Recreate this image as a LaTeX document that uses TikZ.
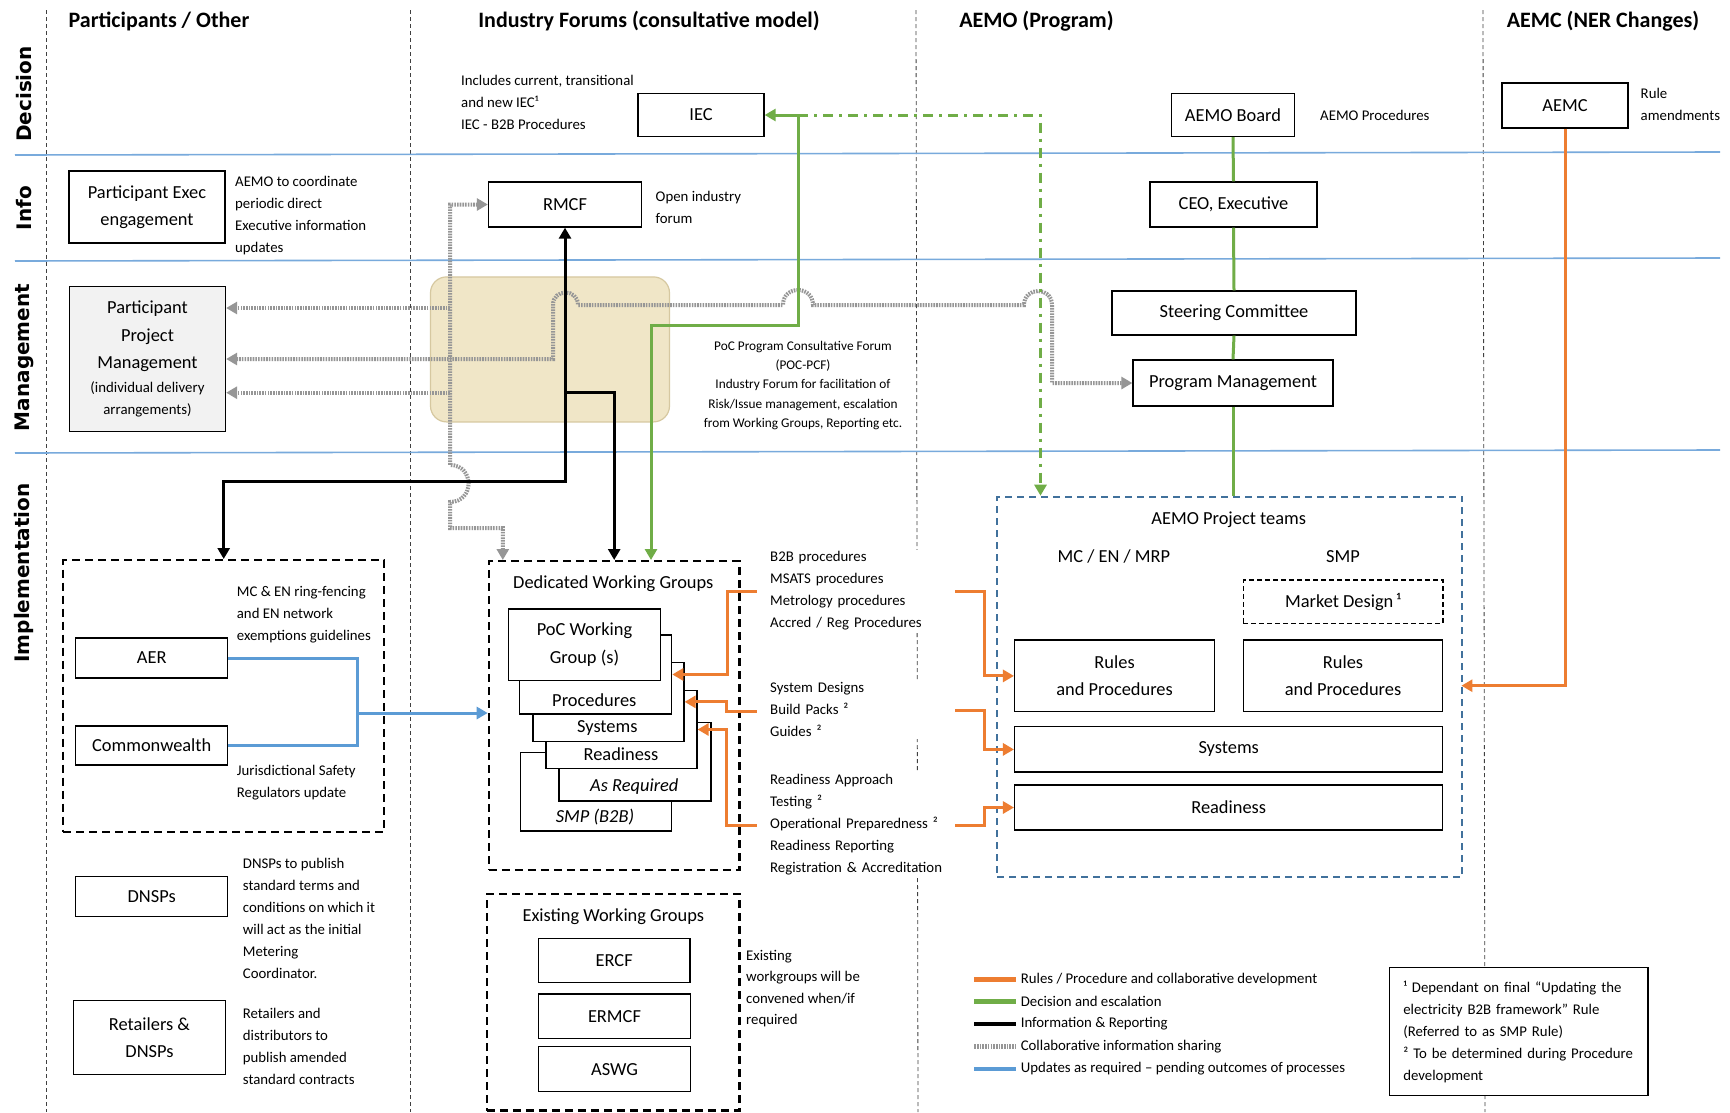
\documentclass[tikz,border=0pt]{standalone}
\usepackage{fontspec}
\setmainfont{Carlito}
\newfontfamily\rowfont{DejaVu Sans}
\usetikzlibrary{arrows.meta,calc}
\definecolor{laneblue}{RGB}{120,170,220}
\definecolor{orgc}{RGB}{237,125,49}
\definecolor{grnc}{RGB}{112,173,71}
\definecolor{bluc}{RGB}{91,155,213}
\definecolor{gryc}{RGB}{150,150,150}
\definecolor{teamc}{RGB}{65,113,156}
\definecolor{ppmfill}{RGB}{242,242,242}
\definecolor{tanfill}{RGB}{240,230,199}
\definecolor{tandraw}{RGB}{214,200,160}
\newcommand\notesize{\fontsize{14.8}{22}\selectfont}
\newcommand\boxsize{\fontsize{18.4}{27.5}\selectfont}
\begin{document}
\begin{tikzpicture}[x=1pt,y=-1pt,
  >={Triangle[length=11pt,width=12pt]},
  box/.style={draw=black, line width=1.3pt, fill=white, inner sep=0pt, align=center, font=\boxsize},
  lbl/.style={inner sep=0pt, align=center, font=\boxsize},
  note/.style={inner sep=0pt, align=left, anchor=north west, font=\notesize},
  wnote/.style={note, fill=white, inner sep=2pt, text width=172pt},
  hdr/.style={font=\fontsize{22}{26}\selectfont\bfseries},
  rowlab/.style={font=\rowfont\fontsize{20}{24}\selectfont\bfseries, rotate=90},
  lane/.style={draw=laneblue, line width=1.6pt},
  colsep/.style={draw=black!75, line width=0.8pt, dash pattern=on 4pt off 3pt},
  grpbox/.style={draw=black, line width=2.4pt, dash pattern=on 8pt off 5pt, inner sep=0pt},
  teambox/.style={draw=teamc, line width=2pt, dash pattern=on 7pt off 5pt, inner sep=0pt},
  stackbox/.style={draw=black, line width=1.3pt, fill=white, inner sep=0pt, anchor=north west},
  org/.style={draw=orgc, line width=3pt},
  grn/.style={draw=grnc, line width=3pt},
  blu/.style={draw=bluc, line width=3pt},
  blk/.style={draw=black, line width=3pt},
  gry/.style={draw=gryc, line width=4pt, dash pattern=on 1.6pt off 1.1pt},
  dashdot/.style={dash pattern=on 10pt off 6pt on 3pt off 6pt},
]
\fill[white] (0,0) rectangle (1730,1112);
\useasboundingbox (0,0) rectangle (1730,1112);

% column separators
\draw[colsep] (46,10) -- (46,1112);
\draw[colsep] (410,10) -- (410,1112);
\draw[colsep] (916,10) -- (918,1112);
\draw[colsep] (1483,10) -- (1485,1112);

% lanes
\draw[lane] (15,155) -- (1720,152);
\draw[lane] (15,261) -- (1720,258);
\draw[lane] (15,453) -- (1720,450);

% headers
\node[hdr] (h1) at (159,21) {Participants / Other};
\node[hdr] (h2) at (649,21) {Industry Forums (consultative model)};
\node[hdr] (h3) at (1036.5,21) {AEMO (Program)};
\node[hdr] (h4) at (1603,21) {AEMC (NER Changes)};

% row labels
\node[rowlab] (r1) at (24,94) {Decision};
\node[rowlab] (r2) at (24,208) {Info};
\node[rowlab] (r3) at (24,357.5) {Management};
\node[rowlab] (r4) at (24,573) {Implementation};

% Decision row
\node[box, minimum width=126pt, minimum height=43pt] (iec) at (701,115) {IEC};
\node[note] (incl) at (461,75) {Includes current, transitional\\and new IEC¹\\IEC - B2B Procedures};
\node[box, minimum width=123pt, minimum height=43pt] (board) at (1233,115) {AEMO Board};
\node[note, anchor=west] (aproc) at (1320,115) {AEMO Procedures};
\node[box, minimum width=126pt, minimum height=45pt] (aemc) at (1565,105.5) {AEMC};
\node[note] (rule) at (1640.5,88) {Rule\\amendments};

% Info row
\node[box, minimum width=156pt, minimum height=72pt] (pexec) at (147,207) {Participant Exec\\engagement};
\node[note] (coord) at (235,176) {AEMO to coordinate\\periodic direct\\Executive information\\updates};
\node[box, minimum width=153pt, minimum height=45pt] (rmcf) at (565,204.5) {RMCF};
\node[note] (open) at (655.5,191) {Open industry\\forum};
\node[box, minimum width=167pt, minimum height=45pt] (ceo) at (1233.5,204.5) {CEO, Executive};

% Management row
\node[box, fill=ppmfill, minimum width=156pt, minimum height=145pt] (ppm) at (147.5,359)
  {Participant\\Project\\Management\\[-3.5pt]\notesize (individual delivery\\[-5.5pt]\notesize arrangements)};
\node[draw=tandraw, fill=tanfill, line width=1.2pt, rounded corners=16pt, minimum width=239pt, minimum height=145pt, inner sep=0pt] (pcf) at (550,349.4) {};
\node[inner sep=0pt, align=center, font=\fontsize{13.3}{19.3}\selectfont] (pcft) at (803,385.5)
  {PoC Program Consultative Forum\\(POC-PCF)\\Industry Forum for facilitation of\\Risk/Issue management, escalation\\from Working Groups, Reporting etc.};
\node[box, minimum width=244pt, minimum height=44pt] (steer) at (1234,313) {Steering Committee};
\node[box, minimum width=200pt, minimum height=46pt] (pm) at (1233,383) {Program Management};

% Implementation - participants
\node[grpbox, minimum width=321pt, minimum height=271.7pt, anchor=north west] (lgrp) at (62,559) {};
\node[box, minimum width=152pt, minimum height=40pt] (aer) at (151.7,658) {AER};
\node[box, minimum width=152pt, minimum height=39pt] (cw) at (151.7,745.5) {Commonwealth};
\node[note] (mcen) at (236.7,585.7) {MC \& EN ring-fencing\\and EN network\\exemptions guidelines};
\node[note] (jur) at (236.7,764.7) {Jurisdictional Safety\\Regulators update};
\node[box, minimum width=152pt, minimum height=40pt] (dnsp) at (151.7,896.7) {DNSPs};
\node[note] (dnspt) at (242.7,858) {DNSPs to publish\\standard terms and\\conditions on which it\\will act as the initial\\Metering\\Coordinator.};
\node[box, minimum width=152pt, minimum height=73.6pt] (ret) at (149.5,1037.5) {Retailers \&\\DNSPs};
\node[note] (rett) at (242.7,1008) {Retailers and\\distributors to\\publish amended\\standard contracts};

% Dedicated working groups
\node[grpbox, minimum width=250.6pt, minimum height=309pt, anchor=north west] (dwg) at (487.7,560) {};
\node[lbl] (dwgt) at (613.3,583.3) {Dedicated Working Groups};
\node[stackbox, minimum width=151pt, minimum height=78.6pt] (smp) at (520,751.7) {};
\node[lbl, font=\boxsize\itshape] (smpt) at (595,816.7) {SMP (B2B)};
\node[stackbox, minimum width=152pt, minimum height=78.6pt] (asreq) at (558.3,721.7) {};
\node[lbl, font=\boxsize\itshape] (asreqt) at (634.3,786.7) {As Required};
\node[stackbox, minimum width=151pt, minimum height=77.7pt] (rdy) at (545.3,690) {};
\node[lbl] (rdyt) at (621,754.3) {Readiness};
\node[stackbox, minimum width=151pt, minimum height=79pt] (sys) at (532.3,661.7) {};
\node[lbl] (syst) at (607.3,728.3) {Systems};
\node[stackbox, minimum width=152pt, minimum height=79pt] (proc) at (519,634.3) {};
\node[lbl] (proct) at (594.3,700) {Procedures};
\node[stackbox, minimum width=152.3pt, minimum height=71.7pt, align=center, font=\boxsize] (poc) at (507.7,608.3) {PoC Working\\Group (s)};

% notes right of DWG
\node[wnote] (b2b) at (768,549.3) {B2B procedures\\MSATS procedures\\Metrology procedures\\Accred / Reg Procedures};
\node[wnote] (sysd) at (768,680.3) {System Designs\\Build Packs ²\\Guides ²};
\node[wnote] (rdya) at (768,771.7) {Readiness Approach\\Testing ²\\Operational Preparedness ²\\Readiness Reporting\\Registration \& Accreditation};

% Existing working groups
\node[grpbox, minimum width=252.6pt, minimum height=216.6pt, anchor=north west] (ewg) at (485.7,892.7) {};
\node[lbl] (ewgt) at (613.3,916.7) {Existing Working Groups};
\node[box, minimum width=151.7pt, minimum height=44.4pt] (ercf) at (614.2,960.5) {ERCF};
\node[box, minimum width=152.4pt, minimum height=44.3pt] (ermcf) at (614.5,1016.2) {ERMCF};
\node[box, minimum width=152.4pt, minimum height=45pt] (aswg) at (614.5,1069.2) {ASWG};
\node[note, font=\fontsize{14.8}{21.5}\selectfont] (exist) at (746,949.7) {Existing\\workgroups will be\\convened when/if\\required};

% AEMO project teams
\node[teambox, minimum width=465pt, minimum height=380.3pt, anchor=north west] (teams) at (996.4,495.7) {};
\node[lbl] (teamst) at (1228.7,519.3) {AEMO Project teams};
\node[lbl] (mcenl) at (1113.8,556.7) {MC / EN / MRP};
\node[lbl] (smpl) at (1343,556.7) {SMP};
\node[box, dash pattern=on 5pt off 3pt, line width=1.5pt, minimum width=199.5pt, minimum height=43.3pt] (mdes) at (1343,601.7) {Market Design\,¹};
\node[box, minimum width=200pt, minimum height=71.7pt] (rules1) at (1114.6,675.9) {Rules\\and Procedures};
\node[box, minimum width=199.5pt, minimum height=71.7pt] (rules2) at (1343,675.9) {Rules\\and Procedures};
\node[box, minimum width=428.2pt, minimum height=45.3pt] (sysA) at (1228.7,749.4) {Systems};
\node[box, minimum width=428.2pt, minimum height=45pt] (rdyA) at (1228.7,807.5) {Readiness};

% ---- connectors ----
% green chain
\draw[grn] (board.south) -- (ceo.north);
\draw[grn] (ceo.south) -- (steer.north);
\draw[grn] (steer.south) -- (pm.north);
\draw[grn] (pm.south) -- (pm.south |- teams.north);

% gray collaborative
\coordinate (ga) at (450,204.5);
\coordinate (gb) at (450,308);
\coordinate (gc) at (450,392.7);
\coordinate (g5) at (502.8,528);
\draw[gry,<->] (rmcf.west) -- (ga) -- (450,465) .. controls (474.7,465) and (474.7,502) .. (450,502) -- (450,528) -- (g5) -- (g5 |- dwg.north);
\draw[gry,->] (gb) -- (gb -| ppm.east);
\draw[gry,->] (gc) -- (gc -| ppm.east);
\draw[gry,<->] (ppm.east) -- (553,359) -- (553,305) .. controls (553,288.3) and (578,288.3) .. (578,305) -- (783,305) .. controls (783,285) and (813,285) .. (813,305) -- (1024,305) .. controls (1024,286.3) and (1052,286.3) .. (1052,305) -- (1052,383) -- (pm.west);

% green decision
\coordinate (gj) at (798,115);
\coordinate (g2) at (651,325);
\coordinate (gd) at (1040.5,115);
\draw[grn,<->] (iec.east) -- (gj) |- (g2) -- (g2 |- dwg.north);
\draw[grn,dashdot,->] (gj) -- (gd) -- (gd |- teams.north);

% black information
\coordinate (bk1) at (565,481);
\coordinate (bk2) at (565,392.7);
\draw[blk,<->] (rmcf.south) -- (bk1) -| (lgrp.north);
\draw[blk,->] (bk2) -| (dwg.north);

% blue updates
\coordinate (bj) at (357.7,713);
\draw[blu] (aer.east) -| (bj) |- (cw.east);
\draw[blu,->] (bj) -- (bj -| dwg.west);

% orange into DWG
\coordinate (o1) at (756.7,591);
\coordinate (o2) at (756.7,711);
\coordinate (o3) at (756.7,825);
\draw[org,->] (o1) -- (727.3,591) |- (proc.east);
\draw[org,->] (o2) -- (726.7,711) |- (sys.east);
\draw[org,->] (o3) -- (726.7,825) |- (rdy.east);

% orange into AEMO teams
\coordinate (oa) at (955,591.7);
\coordinate (ob) at (955,710);
\coordinate (oc) at (955,825);
\draw[org,->] (oa) -- (984.3,591.7) |- (rules1.west);
\draw[org,->] (ob) -- (984.3,710) |- (sysA.west);
\draw[org,->] (oc) -- (984.3,825) |- (rdyA.west);

% AEMC rule amendments
\coordinate (tr) at (1461.4,685.7);
\draw[org,->] (aemc.south) |- (tr);

% legend
\coordinate (l1a) at (974.3,979.3); \coordinate (l1b) at (1015.6,979.3);
\coordinate (l2a) at (974.3,1001.7); \coordinate (l2b) at (1015.6,1001.7);
\coordinate (l3a) at (974.3,1024); \coordinate (l3b) at (1015.6,1024);
\coordinate (l4a) at (974.3,1046.7); \coordinate (l4b) at (1015.6,1046.7);
\coordinate (l5a) at (974.3,1069); \coordinate (l5b) at (1015.6,1069);
\draw[org, line width=4.5pt] (l1a) -- (l1b);
\draw[grn, line width=4.5pt] (l2a) -- (l2b);
\draw[blk, line width=4.5pt] (l3a) -- (l3b);
\draw[gry, line width=4.5pt] (l4a) -- (l4b);
\draw[blu, line width=4.5pt] (l5a) -- (l5b);
\node[note, anchor=west] (l1t) at (1020.6,979.3) {Rules / Procedure and collaborative development};
\node[note, anchor=west] (l2t) at (1020.6,1001.7) {Decision and escalation};
\node[note, anchor=west] (l3t) at (1020.6,1024) {Information \& Reporting};
\node[note, anchor=west] (l4t) at (1020.6,1046.7) {Collaborative information sharing};
\node[note, anchor=west] (l5t) at (1020.6,1069) {Updates as required -- pending outcomes of processes};

% footnotes
\node[box, font=\notesize, align=left, text width=231pt, inner xsep=13.6pt, inner ysep=0pt, minimum height=128pt] (fn) at (1518.85,1031.7)
  {¹ Dependant on final “Updating the\\electricity B2B framework” Rule\\(Referred to as SMP Rule)\\² To be determined during Procedure\\development};
\end{tikzpicture}
\end{document}
